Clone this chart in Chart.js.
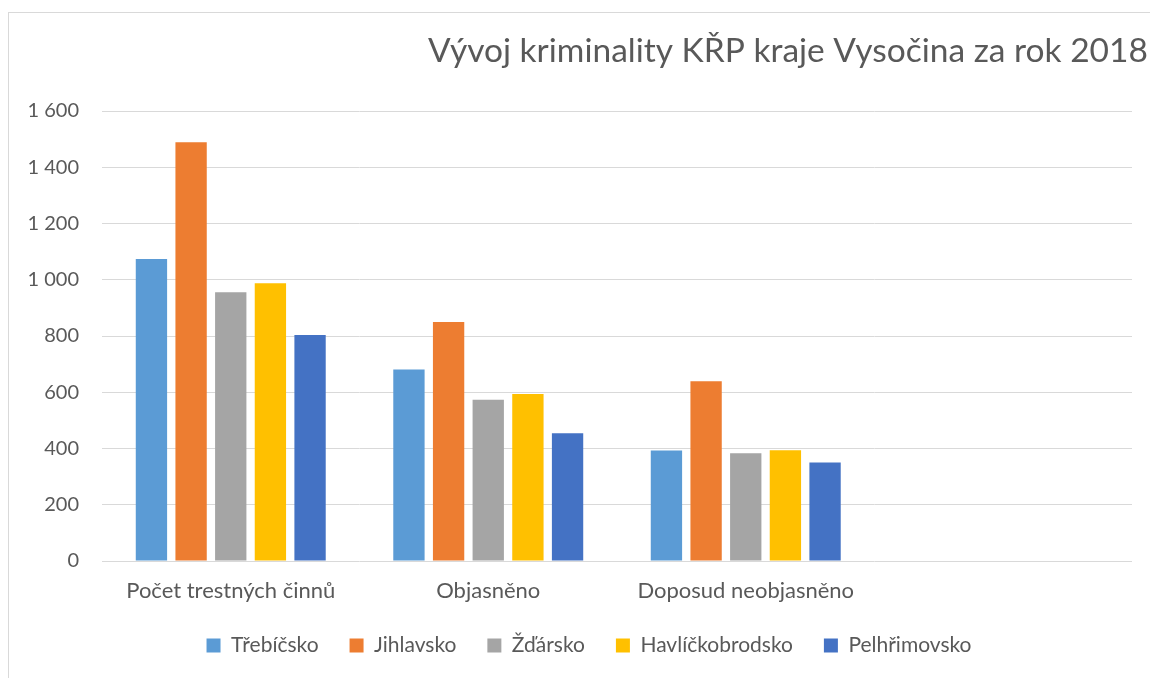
<!DOCTYPE html>
<html lang="cs">
<head>
<meta charset="utf-8">
<title>Vývoj kriminality KŘP kraje Vysočina za rok 2018</title>
<script src="https://cdn.jsdelivr.net/npm/chart.js@4.4.1/dist/chart.umd.min.js"></script>
<style>
  html, body { margin: 0; padding: 0; background: #ffffff; overflow: hidden; }
  #wrap { position: relative; width: 1150px; height: 678px; }
  #frame { position: absolute; left: 8px; top: 12px; width: 1200px; height: 700px;
           border-left: 1px solid #d9d9d9; border-top: 1px solid #d9d9d9; box-sizing: border-box; }
  canvas { position: absolute; left: 0; top: 0; }
</style>
</head>
<body>
<div id="wrap">
  <div id="frame"></div>
  <canvas id="c" width="1150" height="678"></canvas>
</div>
<script>
const chartTitle = 'Vývoj kriminality KŘP kraje Vysočina za rok 2018';
const categories = ['Počet trestných činnů', 'Objasněno', 'Doposud neobjasněno', ''];
const seriesNames = ['Třebíčsko', 'Jihlavsko', 'Žďársko', 'Havlíčkobrodsko', 'Pelhřimovsko'];
const trebicsko = [1074, 681, 393, null];
const jihlavsko = [1489, 850, 639, null];
const zdarsko = [956, 573, 383, null];
const havlickobrodsko = [988, 594, 394, null];
const pelhrimovsko = [804, 454, 350, null];
const seriesColors = ['#5B9BD5', '#ED7D31', '#A5A5A5', '#FFC000', '#4472C4'];
const yMin = 0, yMax = 1600, yStep = 200;

const FONT = 'Lato, "Open Sans", "Liberation Sans", sans-serif';
const TEXT = '#595959';

const seriesValues = [trebicsko, jihlavsko, zdarsko, havlickobrodsko, pelhrimovsko];

const titlePlugin = {
  id: 'excelTitle',
  afterLayout(chart) {
    // centre the legend under the full (wider) Excel chart frame
    if (chart.legend) { chart.legend.left += 19; }
  },
  afterDraw(chart) {
    const ctx = chart.ctx;
    ctx.save();
    ctx.font = '33.5px ' + FONT;
    ctx.fillStyle = TEXT;
    ctx.textAlign = 'left';
    ctx.textBaseline = 'alphabetic';
    ctx.fillText(chartTitle, 428, 62);
    ctx.restore();
  }
};

function fmt(v) {
  return String(v).replace(/\B(?=(\d{3})+(?!\d))/g, ' ');
}

new Chart(document.getElementById('c'), {
  type: 'bar',
  data: {
    labels: categories,
    datasets: seriesNames.map((name, i) => ({
      label: name,
      data: seriesValues[i],
      backgroundColor: seriesColors[i],
      borderWidth: 0,
      categoryPercentage: 0.77,
      barPercentage: 0.79
    }))
  },
  options: {
    responsive: false,
    animation: false,
    layout: { padding: { left: 27, right: 18, top: 111, bottom: 12 } },
    plugins: {
      title: { display: false },
      tooltip: { enabled: false },
      legend: {
        display: true,
        position: 'bottom',
        align: 'center',
        labels: {
          font: { family: FONT, size: 21 },
          color: TEXT,
          boxWidth: 14,
          boxHeight: 14,
          padding: 31
        }
      }
    },
    scales: {
      x: {
        afterFit(scale) { scale.height = 43; },
        grid: { display: false, drawTicks: false },
        border: { display: false },
        ticks: {
          font: { family: FONT, size: 22 },
          color: TEXT,
          padding: 17,
          maxRotation: 0,
          autoSkip: false
        }
      },
      y: {
        min: yMin,
        max: yMax,
        afterFit(scale) { scale.width = 75; },
        grid: { color: '#d9d9d9', lineWidth: 1, drawTicks: false },
        border: { display: false },
        ticks: {
          stepSize: yStep,
          font: { family: FONT, size: 20 },
          color: TEXT,
          padding: 23,
          callback: (v) => fmt(v)
        }
      }
    }
  },
  plugins: [titlePlugin]
});
</script>
</body>
</html>
